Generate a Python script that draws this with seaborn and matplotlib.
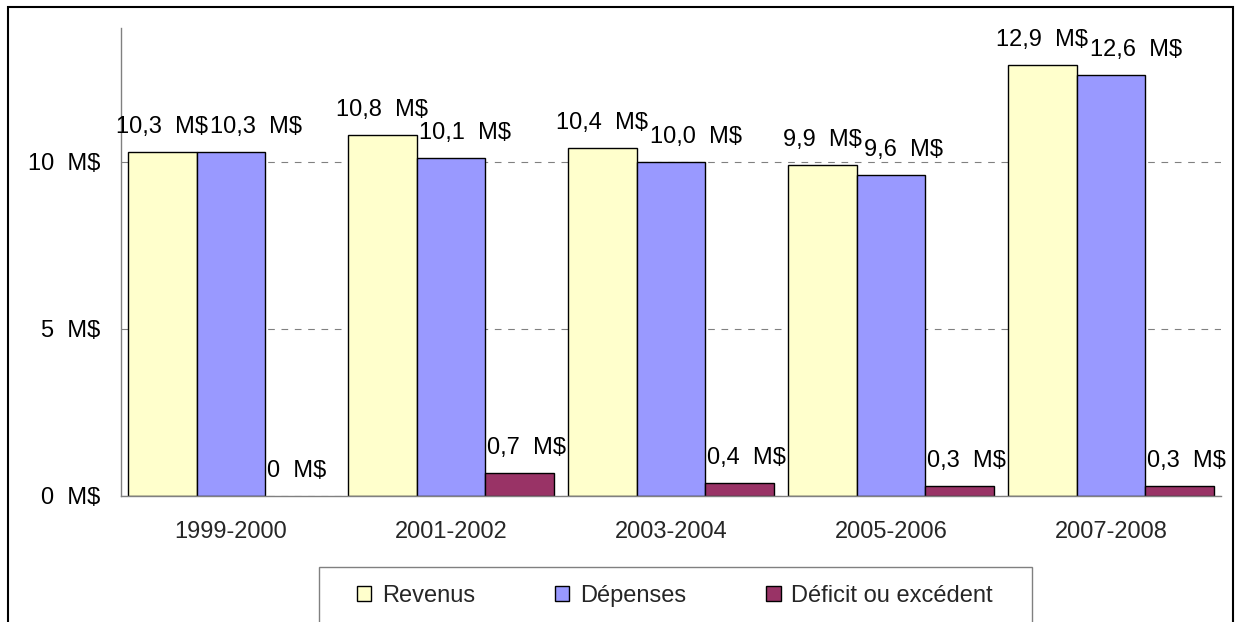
import pandas as pd
import seaborn as sns
import matplotlib.pyplot as plt
from matplotlib.patches import Patch, Rectangle

# Values (millions of dollars)
periods = ['1999-2000', '2001-2002', '2003-2004', '2005-2006', '2007-2008']
revenus = [10.3, 10.8, 10.4, 9.9, 12.9]
depenses = [10.3, 10.1, 10.0, 9.6, 12.6]
deficit = [0, 0.7, 0.4, 0.3, 0.3]
series_names = ['Revenus', 'Dépenses', 'Déficit ou excédent']
series_colors = ['#FFFFCC', '#9999FF', '#993366']
ytick_values = [0, 5, 10]
ytick_labels = ['0  M$', '5  M$', '10  M$']

series_values = [revenus, depenses, deficit]
df = pd.DataFrame({
    'Période': periods * len(series_names),
    'Série': [s for s in series_names for _ in periods],
    'Montant': revenus + depenses + deficit,
})

sns.set_style('white')
plt.rcParams['font.family'] = ['Liberation Sans', 'DejaVu Sans']
FS = 17

W, H = 1236, 622
fig = plt.figure(figsize=(W / 100, H / 100), dpi=100)
ax = fig.add_axes([121 / W, 1 - 496 / H, 1100 / W, 468 / H])

sns.barplot(data=df, x='Période', y='Montant', hue='Série', hue_order=series_names,
            palette=dict(zip(series_names, series_colors)), saturation=1,
            width=0.94, edgecolor='black', linewidth=1.0, errorbar=None,
            legend=False, ax=ax)

ax.set_xlim(-0.5, len(periods) - 0.5)
ax.set_ylim(0, 14)
ax.set_xlabel('')
ax.set_ylabel('')

# axes styling
for side in ['top', 'right']:
    ax.spines[side].set_visible(False)
for side in ['left', 'bottom']:
    ax.spines[side].set_color('#808080')
    ax.spines[side].set_linewidth(1.0)

ax.set_yticks(ytick_values)
ax.set_yticklabels(ytick_labels, fontsize=FS)
ax.tick_params(axis='y', length=5.8, width=1, color='#808080', pad=9, labelcolor='black')
ax.set_xticks(range(len(periods)))
ax.set_xticklabels(periods, fontsize=FS)
ax.set_xticks([i - 0.5 for i in range(len(periods) + 1)], minor=True)
ax.tick_params(axis='x', which='major', length=0, pad=18)
ax.tick_params(axis='x', which='minor', length=5.8, width=1, color='#808080')

ax.yaxis.grid(True, color='#808080', linestyle=(0, (6, 6)), linewidth=0.8)
ax.xaxis.grid(False)
ax.set_axisbelow(True)

# data labels
def fmt(v):
    if v == 0:
        return '0  M$'
    return f'{v:.1f}'.replace('.', ',') + '  M$'

grid_labels = [[None] * len(series_names) for _ in periods]
for s, (container, values) in enumerate(zip(ax.containers, series_values)):
    for g, (bar, v) in enumerate(zip(container, values)):
        if v == 0:
            bar.set_edgecolor('none')
        if s == 0:
            x, ha, dx = bar.get_x() + bar.get_width() / 2, 'center', 0
        else:
            x, ha, dx = bar.get_x(), 'left', 2
        t = ax.annotate(fmt(v), xy=(x, bar.get_height()), xytext=(dx, 19),
                        textcoords='offset pixels', ha=ha, va='baseline',
                        fontsize=FS, color='black')
        grid_labels[g][s] = t

# push labels right when they collide with their left neighbour
fig.canvas.draw()
renderer = fig.canvas.get_renderer()
ordered = [t for row in grid_labels for t in row]
for prev, cur in zip(ordered[:-1], ordered[1:]):
    b0 = prev.get_window_extent(renderer)
    b1 = cur.get_window_extent(renderer)
    if b0.x1 > b1.x0 and b0.y0 < b1.y1 and b1.y0 < b0.y1:
        dx, dy = cur.xyann
        cur.xyann = (dx + (b0.x1 - b1.x0) + 2, dy)

# legend
handles = [Patch(facecolor=c, edgecolor='black', linewidth=1.0) for c in series_colors]
fig.legend(handles, series_names, loc='center left', bbox_to_anchor=(357 / W, 1 - 596 / H),
           ncol=3, frameon=False, fontsize=FS, handlelength=0.6, handleheight=0.6,
           handletextpad=0.45, columnspacing=3.4, borderpad=0, borderaxespad=0)
fig.patches.append(Rectangle((319 / W, -0.1), 713 / W, 0.1 + 1 - 567 / H,
                             transform=fig.transFigure, fill=False,
                             edgecolor='#808080', linewidth=1.0))

# outer chart border
fig.patches.append(Rectangle((8 / W, -0.1), 1225 / W, 0.1 + 1 - 7 / H,
                             transform=fig.transFigure, fill=False,
                             edgecolor='black', linewidth=1.5))

fig.savefig('out.png', dpi=100)
